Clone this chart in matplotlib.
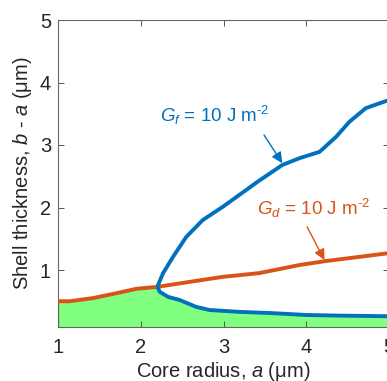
import numpy as np
import matplotlib
matplotlib.use("Agg")
import matplotlib.pyplot as plt

plt.rcParams["font.family"] = ["Liberation Sans", "DejaVu Sans"]
plt.rcParams["mathtext.fontset"] = "custom"
plt.rcParams["mathtext.rm"] = "Liberation Sans"
plt.rcParams["mathtext.it"] = "Liberation Sans:italic"

blue = "#0072BD"
orange = "#D95319"
green = "#80FF80"

# G_d curve
gd_x = [1.0, 1.14, 1.42, 1.71, 1.95, 2.2, 2.59, 2.99, 3.43, 3.92, 4.22, 4.52, 5.0]
gd_y = [0.50, 0.50, 0.55, 0.63, 0.70, 0.73, 0.81, 0.89, 0.95, 1.08, 1.14, 1.19, 1.27]

# G_f curve, upper branch
gf_up_x = [2.20, 2.27, 2.39, 2.55, 2.75, 2.99, 3.19, 3.41, 3.71, 3.92, 4.16, 4.36, 4.52, 4.72, 5.0]
gf_up_y = [0.73, 0.95, 1.21, 1.53, 1.80, 2.01, 2.20, 2.41, 2.68, 2.79, 2.89, 3.13, 3.37, 3.59, 3.72]

# G_f curve, lower branch
gf_lo_x = [2.20, 2.23, 2.33, 2.47, 2.67, 2.83, 3.19, 3.59, 4.0, 4.40, 5.0]
gf_lo_y = [0.73, 0.65, 0.57, 0.52, 0.41, 0.36, 0.33, 0.31, 0.28, 0.27, 0.26]

fig = plt.figure(figsize=(3.87, 3.81), dpi=100)
ax = fig.add_axes([58 / 387, 54 / 381, 331 / 387, 307 / 381])

# safe region
fx = gd_x[:6] + gf_lo_x[1:]
fy = gd_y[:6] + gf_lo_y[1:]
ax.fill_between(fx, fy, 0, color=green, edgecolor="#33b833", linewidth=1.0, zorder=1)

ax.plot(gd_x, gd_y, color=orange, lw=2.8, solid_capstyle="butt", zorder=3)
ax.plot(gf_up_x, gf_up_y, color=blue, lw=2.8, solid_capstyle="butt", zorder=3)
ax.plot(gf_lo_x, gf_lo_y, color=blue, lw=2.8, solid_capstyle="butt", zorder=3)

ax.annotate("", xy=(3.71, 2.71), xytext=(3.49, 3.16),
            arrowprops=dict(arrowstyle="-|>", color=blue, lw=1.0, mutation_scale=16,
                            shrinkA=0, shrinkB=0))
ax.text(2.23, 3.37, r"$G_f$ = 10 J m$^{\text{-2}}$", color=blue, fontsize=13.5,
        ha="left", va="baseline")

ax.annotate("", xy=(4.22, 1.16), xytext=(4.01, 1.69),
            arrowprops=dict(arrowstyle="-|>", color=orange, lw=1.0, mutation_scale=16,
                            shrinkA=0, shrinkB=0))
ax.text(3.41, 1.88, r"$G_d$ = 10 J m$^{\text{-2}}$", color=orange, fontsize=13.5,
        ha="left", va="baseline")

ax.set_xlim(1, 5)
ax.set_ylim(0.088, 5)
ax.set_xticks([1, 2, 3, 4, 5])
ax.set_yticks([1, 2, 3, 4, 5])
ax.tick_params(direction="in", length=4, width=0.7, colors="#555555",
               labelcolor="#262626", labelsize=14.5, top=True, right=True)
ax.tick_params(axis="x", pad=8)
ax.tick_params(axis="y", pad=5)
for s in ax.spines.values():
    s.set_color("#666666")
    s.set_linewidth(0.8)

ax.set_xlabel("Core radius, $a$ (μm)", fontsize=14.5, color="#262626", labelpad=2)
ax.set_ylabel("Shell thickness, $b$ - $a$ (μm)", fontsize=14.5, color="#262626", labelpad=4)

fig.savefig("out.png", dpi=100)
